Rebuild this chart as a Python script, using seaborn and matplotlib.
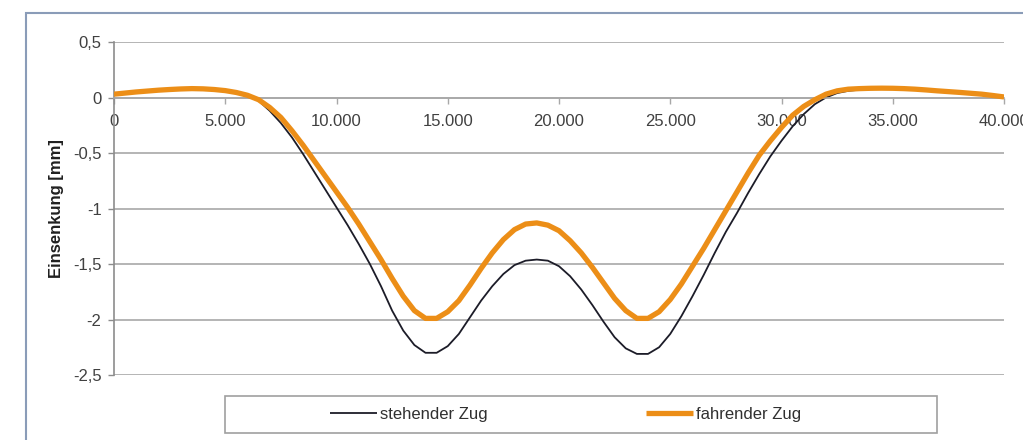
import matplotlib
matplotlib.use("Agg")
import matplotlib.pyplot as plt
from matplotlib.patches import Rectangle
import pandas as pd
import seaborn as sns

# ---- data (every 500 m) ----
position = [i * 500 for i in range(81)]

stehender = [0.03, 0.04, 0.047, 0.055, 0.062, 0.068, 0.073, 0.075, 0.074, 0.068,
             0.057, 0.042, 0.02, -0.03, -0.12, -0.23, -0.36, -0.51, -0.67, -0.83,
             -0.99, -1.15, -1.32, -1.50, -1.70, -1.92, -2.10, -2.23, -2.30, -2.30,
             -2.24, -2.13, -1.98, -1.83, -1.70, -1.59, -1.51, -1.47, -1.46, -1.47,
             -1.52, -1.61, -1.73, -1.87, -2.02, -2.16, -2.26, -2.31, -2.31, -2.25,
             -2.13, -1.97, -1.79, -1.60, -1.40, -1.21, -1.04, -0.86, -0.69, -0.53,
             -0.39, -0.26, -0.15, -0.06, 0.0, 0.04, 0.06, 0.07, 0.075, 0.077,
             0.077, 0.074, 0.07, 0.063, 0.056, 0.05, 0.044, 0.037, 0.028, 0.015,
             0.0]

fahrender = [0.03, 0.04, 0.05, 0.058, 0.066, 0.072, 0.077, 0.08, 0.078, 0.072,
             0.062, 0.045, 0.02, -0.02, -0.09, -0.18, -0.30, -0.43, -0.57, -0.71,
             -0.85, -0.99, -1.14, -1.30, -1.46, -1.63, -1.79, -1.92, -1.99, -1.99,
             -1.93, -1.83, -1.69, -1.54, -1.40, -1.28, -1.19, -1.14, -1.13, -1.15,
             -1.20, -1.29, -1.40, -1.53, -1.67, -1.81, -1.92, -1.99, -1.99, -1.93,
             -1.82, -1.68, -1.52, -1.36, -1.19, -1.02, -0.85, -0.68, -0.52, -0.39,
             -0.27, -0.16, -0.08, -0.02, 0.03, 0.06, 0.075, 0.08, 0.083, 0.084,
             0.083, 0.08, 0.075, 0.068, 0.06, 0.053, 0.046, 0.038, 0.03, 0.018,
             0.005]

series_names = ["stehender Zug", "fahrender Zug"]
x_ticks = [0, 5000, 10000, 15000, 20000, 25000, 30000, 35000, 40000]
x_tick_labels = ["0", "5.000", "10.000", "15.000", "20.000", "25.000", "30.000", "35.000", "40.000"]
y_ticks = [-2.5, -2.0, -1.5, -1.0, -0.5, 0.0, 0.5]
y_tick_labels = ["-2,5", "-2", "-1,5", "-1", "-0,5", "0", "0,5"]
y_label = "Einsenkung [mm]"

# ---- styling ----
sns.set_theme(style="white")
plt.rcParams["font.family"] = ["Liberation Sans", "DejaVu Sans"]

W, H, DPI = 1023, 440, 100
fig = plt.figure(figsize=(W / DPI, H / DPI), dpi=DPI)
fig.patch.set_facecolor("white")

def px(x):
    return x / W

def py(y):
    return 1 - y / H

ax_left, ax_right, ax_top, ax_bottom = 114, 1004, 42, 375
ax = fig.add_axes([px(ax_left), py(ax_bottom), px(ax_right - ax_left), (ax_bottom - ax_top) / H])
ax.set_facecolor("white")

df = pd.DataFrame({
    "pos": position * 2,
    "val": stehender + fahrender,
    "serie": [series_names[0]] * len(position) + [series_names[1]] * len(position),
})

colors = {series_names[0]: "#1c1c28", series_names[1]: "#EC8E17"}
widths = {series_names[0]: 1.3, series_names[1]: 3.8}
zorders = {series_names[0]: 2, series_names[1]: 3}

for name in series_names:
    sub = df[df["serie"] == name]
    sns.lineplot(data=sub, x="pos", y="val", ax=ax, color=colors[name],
                 linewidth=widths[name], label=name, legend=False,
                 solid_capstyle="butt", solid_joinstyle="round", zorder=zorders[name])

ax.set_xlim(0, 40000)
ax.set_ylim(-2.5, 0.5)

ax.set_yticks(y_ticks)
ax.set_yticklabels(y_tick_labels)
ax.set_xticks(x_ticks)
ax.set_xticklabels(x_tick_labels)

grid_col = "#A8A8A8"
ax.yaxis.grid(True, color=grid_col, linewidth=1.2, zorder=0)
ax.xaxis.grid(False)
ax.set_axisbelow(True)

for s in ["top", "right"]:
    ax.spines[s].set_visible(False)
ax.spines["left"].set_color("#8C8C8C")
ax.spines["left"].set_linewidth(1.2)
ax.spines["bottom"].set_position(("data", 0))
ax.spines["bottom"].set_color(grid_col)
ax.spines["bottom"].set_linewidth(1.2)

ax.tick_params(axis="y", which="major", left=True, length=4, width=1, color="#8C8C8C",
               pad=5, labelsize=12, labelcolor="#404040")
ax.tick_params(axis="x", which="major", bottom=True, length=4, width=1, color=grid_col,
               pad=8, labelsize=12, labelcolor="#404040")
for lbl in ax.get_xticklabels():
    lbl.set_clip_on(False)

ax.set_xlabel("")
ax.set_ylabel(y_label, fontsize=12, fontweight="bold", color="#202020")
ax.yaxis.set_label_coords((64 - ax_left) / (ax_right - ax_left), 0.5)

# legend box (a wide framed box with centred entries, as in the reference)
box = Rectangle((px(225), py(433)), px(937 - 225), (433 - 396) / H,
                transform=fig.transFigure, facecolor="white", edgecolor="#A0A0A0",
                linewidth=1.2, zorder=1)
fig.patches.append(box)
handles, labels = ax.get_legend_handles_labels()
leg = fig.legend(handles, labels, loc="center", bbox_to_anchor=(px(566), py(414)),
                 ncol=2, frameon=False, fontsize=12, handlelength=2.8,
                 handletextpad=0.2, columnspacing=9.5, labelcolor="#303030")

# outer chart-area border
outer = Rectangle((px(26), py(H + 5)), px(W), (H + 5 - 13) / H,
                  transform=fig.transFigure, facecolor="none", edgecolor="#8A9CB8",
                  linewidth=1.5, zorder=0)
fig.patches.append(outer)

fig.savefig("out.png", dpi=DPI, facecolor="white")
